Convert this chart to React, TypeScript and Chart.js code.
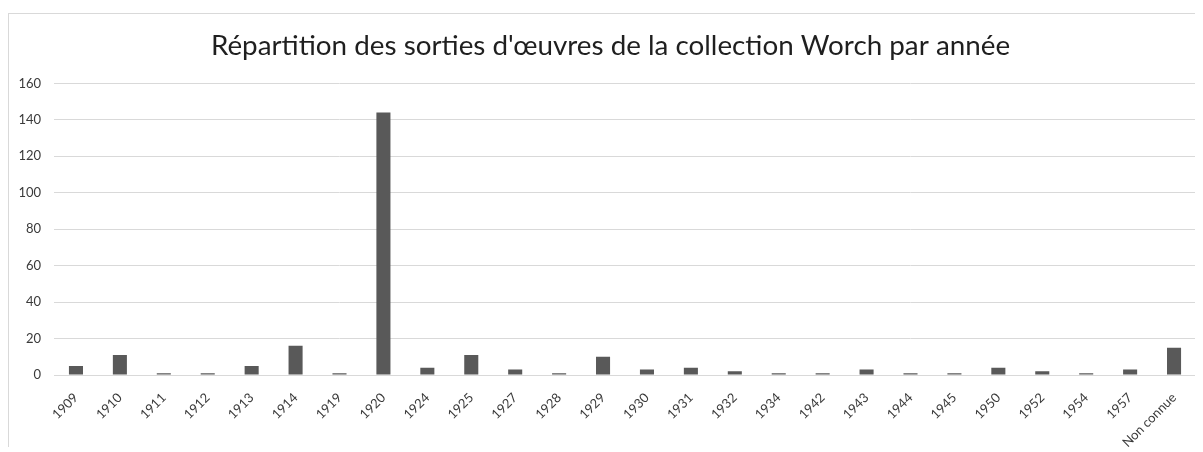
import React, { useEffect, useRef } from "react";
import { Chart, registerables } from "chart.js";

Chart.register(...registerables);

const TITLE = "Répartition des sorties d'œuvres de la collection Worch par année";

const categories: string[] = [
  "1909", "1910", "1911", "1912", "1913", "1914", "1919", "1920", "1924", "1925",
  "1927", "1928", "1929", "1930", "1931", "1932", "1934", "1942", "1943", "1944",
  "1945", "1950", "1952", "1954", "1957", "Non connue",
];

const counts: number[] = [
  5, 11, 1, 1, 5, 16, 1, 144, 4, 11,
  3, 1, 10, 3, 4, 2, 1, 1, 3, 1,
  1, 4, 2, 1, 3, 15,
];

const yMin = 0;
const yMax = 160;
const yStep = 20;

const FONT = "Lato, 'Open Sans', sans-serif";

export default function App() {
  const canvasRef = useRef<HTMLCanvasElement | null>(null);

  useEffect(() => {
    if (!canvasRef.current) return;
    const chart = new Chart(canvasRef.current, {
      type: "bar",
      data: {
        labels: categories,
        datasets: [
          {
            label: "Sorties",
            data: counts,
            backgroundColor: "#595959",
            borderWidth: 0,
            categoryPercentage: 1,
            barPercentage: 0.32,
            yAxisID: "y",
          },
        ],
      },
      options: {
        animation: false,
        responsive: true,
        maintainAspectRatio: false,
        layout: { padding: { left: 0, right: 9, top: 0, bottom: 0 } },
        plugins: {
          legend: { display: false },
          tooltip: { enabled: false },
          title: {
            display: true,
            text: TITLE,
            color: "#1f1f1f",
            font: { family: FONT, size: 27.8, weight: "normal" },
            padding: { top: 15, bottom: 21 },
          },
        },
        scales: {
          x: {
            grid: { display: false, drawTicks: false },
            border: { display: true, color: "#d9d9d9", width: 1 },
            ticks: {
              color: "#3a3a3a",
              font: { family: FONT, size: 13 },
              minRotation: 45,
              maxRotation: 45,
              autoSkip: false,
              padding: 15,
            },
            afterFit: (axis: any) => {
              axis.height = 79;
            },
          },
          y: {
            position: "left",
            min: yMin,
            max: yMax,
            grid: { color: "#d9d9d9", lineWidth: 1, drawTicks: false },
            border: { display: false },
            ticks: {
              stepSize: yStep,
              color: "#3a3a3a",
              font: { family: FONT, size: 13 },
              padding: 13,
            },
            afterFit: (axis: any) => {
              axis.width = 45;
            },
          },
          spacer: {
            type: "linear",
            position: "right",
            display: true,
            min: yMin,
            max: yMax,
            grid: { display: false, drawTicks: false },
            border: { display: false },
            ticks: { display: false },
            afterFit: (axis: any) => {
              axis.width = 16;
            },
          },
        },
      },
    });
    return () => chart.destroy();
  }, []);

  return (
    <div style={{ width: 1195, height: 439, overflow: "hidden", paddingTop: 5, boxSizing: "border-box" }}>
      <div style={{ border: "1px solid #d9d9d9", width: 1212, height: 440, background: "#fff" }}>
        <div style={{ position: "relative", width: 1212, height: 440 }}>
          <canvas ref={canvasRef} />
        </div>
      </div>
    </div>
  );
}
